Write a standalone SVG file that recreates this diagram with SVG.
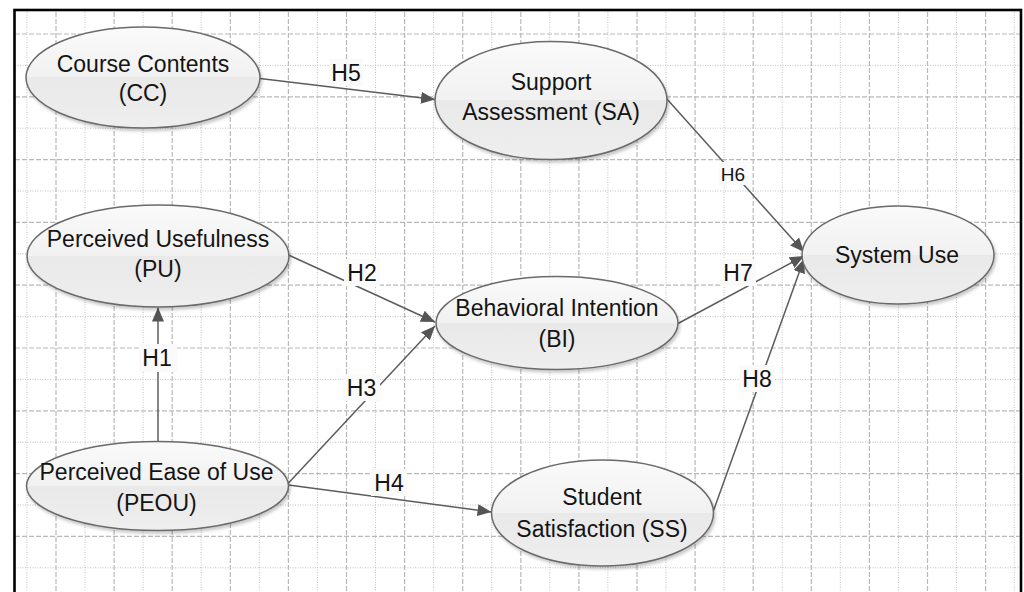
<svg xmlns="http://www.w3.org/2000/svg" width="1024" height="592" viewBox="0 0 1024 592">
  <style>
    .major { stroke: #b9b9b9; stroke-width: 1.2; stroke-dasharray: 5 2; fill: none; }
    .minor { stroke: #c2c2c2; stroke-width: 1; stroke-dasharray: 1 1.5; fill: none; }
    .node ellipse { fill: url(#nodeFill); stroke: #6a6a6a; stroke-width: 1.5; filter: url(#shadow); }
    .node text { font-family: "Liberation Sans", Arial, sans-serif; font-size: 23px; fill: #141414; text-anchor: middle; }
    .edge { stroke: #5c5c5c; stroke-width: 1.5; fill: none; marker-end: url(#arrow); }
    .lbl rect { fill: #fafafa; }
    .lbl text { font-family: "Liberation Sans", Arial, sans-serif; font-size: 23px; fill: #141414; text-anchor: middle; }
  </style>
  <defs>
    <linearGradient id="nodeFill" x1="0" y1="0" x2="0" y2="1">
      <stop offset="0" stop-color="#fafafa"/>
      <stop offset="0.5" stop-color="#f1f1f1"/>
      <stop offset="0.5" stop-color="#e9e9e9"/>
      <stop offset="1" stop-color="#eeeeee"/>
    </linearGradient>
    <filter id="shadow" x="-10%" y="-10%" width="125%" height="130%">
      <feDropShadow dx="1.5" dy="2.5" stdDeviation="1.5" flood-color="#000" flood-opacity="0.22"/>
    </filter>
    <marker id="arrow" markerUnits="userSpaceOnUse" markerWidth="14" markerHeight="12" refX="14" refY="6" orient="auto">
      <path d="M0,0 L14,6 L0,12 z" fill="#555"/>
    </marker>
  </defs>

  <rect x="0" y="0" width="1024" height="592" fill="#fff"/>

  <!-- background grid: dotted and dashed lines alternate -->
  <g id="grid">
    <path class="minor" d="M26.9,12V592M85.0,12V592M143.1,12V592M201.2,12V592M259.3,12V592M317.4,12V592M375.5,12V592M433.6,12V592M491.7,12V592M549.8,12V592M607.9,12V592M666.0,12V592M724.1,12V592M782.2,12V592M840.3,12V592M898.4,12V592M956.5,12V592M1014.3,12V592"/>
    <path class="major" d="M56.0,12V592M114.1,12V592M172.2,12V592M230.3,12V592M288.4,12V592M346.5,12V592M404.6,12V592M462.7,12V592M520.8,12V592M578.9,12V592M637.0,12V592M695.1,12V592M753.2,12V592M811.3,12V592M869.4,12V592M927.5,12V592M985.6,12V592"/>
    <path class="major" d="M15,34H1020M15,96.8H1020M15,159.6H1020M15,222.4H1020M15,285.2H1020M15,348H1020M15,410.8H1020M15,473.6H1020M15,536.4H1020"/>
    <path class="minor" d="M15,65.4H1020M15,128.2H1020M15,191H1020M15,253.8H1020M15,316.6H1020M15,379.4H1020M15,442.2H1020M15,505H1020M15,567.8H1020"/>
  </g>

  <!-- frame -->
  <rect x="14.5" y="10" width="1006.5" height="600" fill="none" stroke="#000" stroke-width="2.6"/>

  <!-- connectors -->
  <g id="connectors">
    <path class="edge" d="M260,78.5 L435,99.5"/>
    <path class="edge" d="M666.5,98.5 L804,252"/>
    <path class="edge" d="M288.5,255 L435,322"/>
    <path class="edge" d="M678,323.5 L804,256"/>
    <path class="edge" d="M158,442 L158,307.5"/>
    <path class="edge" d="M288.5,483 L435,326"/>
    <path class="edge" d="M288.5,485 L491.5,512"/>
    <path class="edge" d="M713,512 L804,259"/>

    <g class="lbl"><rect x="329" y="59" width="34" height="27"/><text x="346" y="81">H5</text></g>
    <g class="lbl"><rect x="719" y="162" width="29" height="23"/><text x="733" y="181" style="font-size:19px">H6</text></g>
    <g class="lbl"><rect x="344" y="259" width="36" height="27"/><text x="362" y="281">H2</text></g>
    <g class="lbl"><rect x="720" y="259" width="36" height="27"/><text x="738" y="281">H7</text></g>
    <g class="lbl"><rect x="139" y="344" width="38" height="28"/><text x="157" y="366">H1</text></g>
    <g class="lbl"><rect x="739" y="365" width="36" height="27"/><text x="757" y="387">H8</text></g>
    <g class="lbl"><rect x="343" y="374" width="37" height="27"/><text x="361.5" y="396">H3</text></g>
    <g class="lbl"><rect x="371" y="469" width="36" height="27"/><text x="389" y="491">H4</text></g>
  </g>

  <!-- nodes -->
  <g id="node-cc" class="node">
    <ellipse cx="143" cy="77.5" rx="117" ry="50.5"/>
    <text x="143" y="72">Course Contents</text>
    <text x="143" y="101">(CC)</text>
  </g>
  <g id="node-sa" class="node">
    <ellipse cx="551" cy="100.5" rx="116" ry="59"/>
    <text x="551" y="90">Support</text>
    <text x="551" y="120">Assessment (SA)</text>
  </g>
  <g id="node-pu" class="node">
    <ellipse cx="158" cy="256" rx="131" ry="51"/>
    <text x="158" y="247">Perceived Usefulness</text>
    <text x="158" y="277">(PU)</text>
  </g>
  <g id="node-bi" class="node">
    <ellipse cx="557" cy="323" rx="121" ry="46.5"/>
    <text x="557" y="316">Behavioral Intention</text>
    <text x="557" y="347">(BI)</text>
  </g>
  <g id="node-su" class="node">
    <ellipse cx="898" cy="255" rx="96" ry="49"/>
    <text x="897" y="263">System Use</text>
  </g>
  <g id="node-peou" class="node">
    <ellipse cx="157.5" cy="486" rx="131" ry="44.5"/>
    <text x="156.5" y="480">Perceived Ease of Use</text>
    <text x="156.5" y="511">(PEOU)</text>
  </g>
  <g id="node-ss" class="node">
    <ellipse cx="602.5" cy="513" rx="111" ry="53"/>
    <text x="602" y="505">Student</text>
    <text x="602" y="537">Satisfaction (SS)</text>
  </g>
</svg>
